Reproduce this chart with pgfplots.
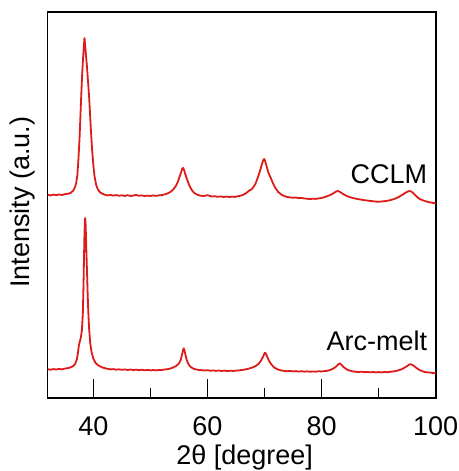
\documentclass[border=0pt]{standalone}
\usepackage{fontspec}
\setmainfont{Liberation Sans}
\usepackage{pgfplots}
\pgfplotsset{compat=1.18}
\definecolor{xrdred}{HTML}{DD1C1A}
\newcommand{\bigfont}{\fontsize{27}{32}\selectfont}

\begin{document}
\begin{tikzpicture}
\begin{axis}[
  scale only axis,
  width=388pt, height=385.7pt,
  xmin=32, xmax=100, ymin=0, ymax=385.7,
  xtick={40,60,80,100}, minor xtick={50,70,90},
  ytick=\empty,
  xtick pos=lower,
  tick align=inside,
  major tick length=19pt, minor tick length=10pt,
  every tick/.style={black, line width=1.6pt},
  axis line style={black, line width=1.6pt},
  /pgf/number format/assume math mode=true,
  tick label style={font=\bigfont},
  x tick label style={anchor=base, yshift=-37pt},
  xlabel={2θ [degree]},
  xlabel style={font=\bigfont, at={(axis description cs:0.5,0)}, anchor=base, yshift=-66pt, xshift=3pt},
  ylabel={Intensity (a.u.)},
  ylabel style={font=\bigfont, at={(axis description cs:-0.047,0.508)}, anchor=base},
  clip=false,
]
% CCLM
\addplot[xrdred, line width=1.8pt, line join=round] coordinates {
(32.0,203.2)(32.5,202.6)(33.0,203.4)(33.5,202.9)(34.0,203.5)(34.5,203.0)(35.0,203.8)(35.5,204.2)
(36.0,205.0)(36.5,207.5)(36.8,211)(37.0,215)(37.2,223)(37.4,240)(37.6,262)(37.86,300)(38.05,325)
(38.2,340)(38.35,353)(38.45,360)(38.55,354)(38.7,343)(38.86,333)(39.05,318)(39.27,300)(39.57,268)
(39.8,247)(40.0,233)(40.2,222)(40.5,213)(40.8,208.5)(41.2,205.5)(41.6,204.2)(42.0,203.3)(42.5,202.6)
(43.0,203.1)(43.5,202.4)(44.0,202.9)(44.5,202.2)(45.0,202.7)(45.5,202.1)(46.0,202.8)(46.5,202.0)
(47.0,202.5)(47.5,203.0)(48.0,202.2)(48.5,202.6)(49.0,201.9)(49.5,202.4)(50.0,202.0)(50.5,202.6)
(51.0,202.1)(51.5,202.7)(52.0,202.9)(52.5,203.6)(53.0,204.5)(53.5,206.0)(54.0,208.5)(54.4,211.5)
(54.8,216)(55.1,221)(55.4,226)(55.6,229.5)(55.75,230)(55.9,228)(56.1,224)(56.4,219)(56.6,216)
(56.9,211.5)(57.3,207.5)(57.7,205)(58.2,203.3)(58.7,202.4)(59.2,202.0)(59.6,202.3)(60.0,202.8)
(60.4,202.1)(60.8,201.5)(61.3,201.8)(61.8,201.2)(62.3,201.6)(62.8,201.0)(63.3,201.4)(63.8,201.0)
(64.3,201.3)(64.8,201.1)(65.3,201.7)(65.8,202.3)(66.3,203.3)(66.8,205.0)(67.3,207.3)(67.7,208.5)
(68.0,210.5)(68.4,214)(68.8,220)(69.2,227)(69.5,233)(69.8,238)(69.95,239)(70.1,237)(70.4,231)
(70.7,225)(71.1,220)(71.5,214.5)(71.9,210)(72.4,206)(73.0,203.2)(73.5,201.8)(74.0,201.0)(74.5,200.6)
(75.0,200.2)(75.5,200.5)(76.0,199.8)(76.5,200.1)(77.0,199.5)(77.5,199.2)(78.0,199.0)(78.5,199.3)
(79.0,199.1)(79.5,199.6)(80.0,200.0)(80.5,200.8)(81.0,201.8)(81.5,203.0)(82.0,204.5)(82.4,206)
(82.7,206.8)(82.9,207)(83.2,206.2)(83.6,204.6)(84.0,203.2)(84.5,201.8)(85.0,200.8)(85.5,200.0)
(86.0,199.3)(86.5,198.8)(87.0,198.3)(87.5,197.8)(88.0,197.5)(88.5,197.0)(89.0,196.8)(89.5,196.4)
(90.0,196.3)(90.5,196.5)(91.0,196.8)(91.5,197.2)(92.0,197.8)(92.5,198.6)(93.0,199.6)(93.5,201.0)
(94.0,202.7)(94.5,204.5)(95.0,206.2)(95.4,207)(95.7,206.5)(96.0,205.3)(96.4,203.0)(96.8,200.8)
(97.2,199.0)(97.7,197.8)(98.2,196.8)(98.7,196.0)(99.2,195.4)(99.6,195.0)(100.0,194.8)
};
% Arc-melt
\addplot[xrdred, line width=1.8pt, line join=round] coordinates {
(32.0,28.8)(32.5,28.3)(33.0,28.9)(33.5,28.5)(34.0,29.1)(34.5,28.6)(35.0,29.4)(35.5,29.8)(36.0,30.6)
(36.5,32.0)(36.8,34)(37.1,38.5)(37.3,45)(37.45,52)(37.6,56)(37.8,60)(38.0,68)(38.16,85)(38.3,120)
(38.42,158)(38.52,178)(38.58,180)(38.66,172)(38.76,150)(38.87,130)(39.0,105)(39.1,88)(39.25,70)
(39.45,55)(39.7,45.5)(40.0,39.5)(40.4,35)(40.9,32.4)(41.5,30.8)(42.0,29.8)(42.5,29.2)(43.0,28.6)
(43.5,28.9)(44.0,28.3)(44.5,28.7)(45.0,28.2)(45.5,28.6)(46.0,28.0)(46.5,28.5)(47.0,27.9)(47.5,28.4)
(48.0,27.8)(48.5,28.3)(49.0,27.7)(49.5,28.1)(50.0,27.6)(50.5,28.0)(51.0,27.6)(51.5,28.1)(52.0,28.0)
(52.5,28.5)(53.0,28.8)(53.5,29.5)(54.0,30.5)(54.5,32.0)(55.0,34.5)(55.3,38)(55.55,43.5)(55.75,48.5)
(55.85,49.7)(55.95,48)(56.15,43)(56.4,37.5)(56.7,33.5)(57.1,30.8)(57.6,29.2)(58.2,28.3)(58.8,27.9)
(59.5,27.5)(60.0,27.8)(60.5,27.3)(61.0,27.6)(61.5,27.1)(62.0,27.5)(62.5,27.0)(63.0,27.4)(63.5,26.9)
(64.0,27.3)(64.5,27.0)(65.0,27.4)(65.5,27.6)(66.0,28.0)(66.5,28.4)(67.0,29.0)(67.5,29.8)(68.0,30.8)
(68.5,32.2)(69.0,34.3)(69.4,37.5)(69.8,42)(70.05,45.3)(70.2,44.8)(70.45,41.5)(70.8,37)(71.2,33.5)
(71.7,30.5)(72.3,28.6)(73.0,27.5)(73.5,27.0)(74.0,26.8)(74.5,27.1)(75.0,26.6)(75.5,26.9)(76.0,26.4)
(76.5,26.8)(77.0,26.3)(77.5,26.7)(78.0,26.2)(78.5,26.6)(79.0,26.3)(79.5,26.8)(80.0,26.5)(80.5,26.9)
(81.0,27.2)(81.5,28.0)(82.0,29.3)(82.5,31.2)(82.9,33.5)(83.15,34.7)(83.4,33.6)(83.8,31.2)(84.3,29.0)
(84.9,27.4)(85.5,26.6)(86.0,26.2)(86.5,26.0)(87.0,26.3)(87.5,25.8)(88.0,26.1)(88.5,25.7)(89.0,26.0)
(89.5,25.6)(90.0,25.9)(90.5,25.6)(91.0,26.0)(91.5,25.8)(92.0,26.2)(92.5,26.5)(93.0,27.0)(93.5,27.7)
(94.0,28.7)(94.5,30.2)(95.0,32.0)(95.4,33.5)(95.6,33.8)(95.9,33.2)(96.3,31.5)(96.8,29.3)(97.3,27.6)
(97.8,26.5)(98.3,25.8)(98.8,25.5)(99.3,25.2)(99.7,25.0)(100.0,24.8)
};
\node[anchor=base east, inner sep=0pt, font=\bigfont] at (axis cs:98.55,214.7) {CCLM};
\node[anchor=base east, inner sep=0pt, font=\bigfont] at (axis cs:98.55,48) {Arc-melt};
\end{axis}
\pgfresetboundingbox
\useasboundingbox ([shift={(-47.7pt,-73pt)}]current axis.south west) rectangle ([shift={(23.3pt,12.3pt)}]current axis.north east);
\end{tikzpicture}
\end{document}
